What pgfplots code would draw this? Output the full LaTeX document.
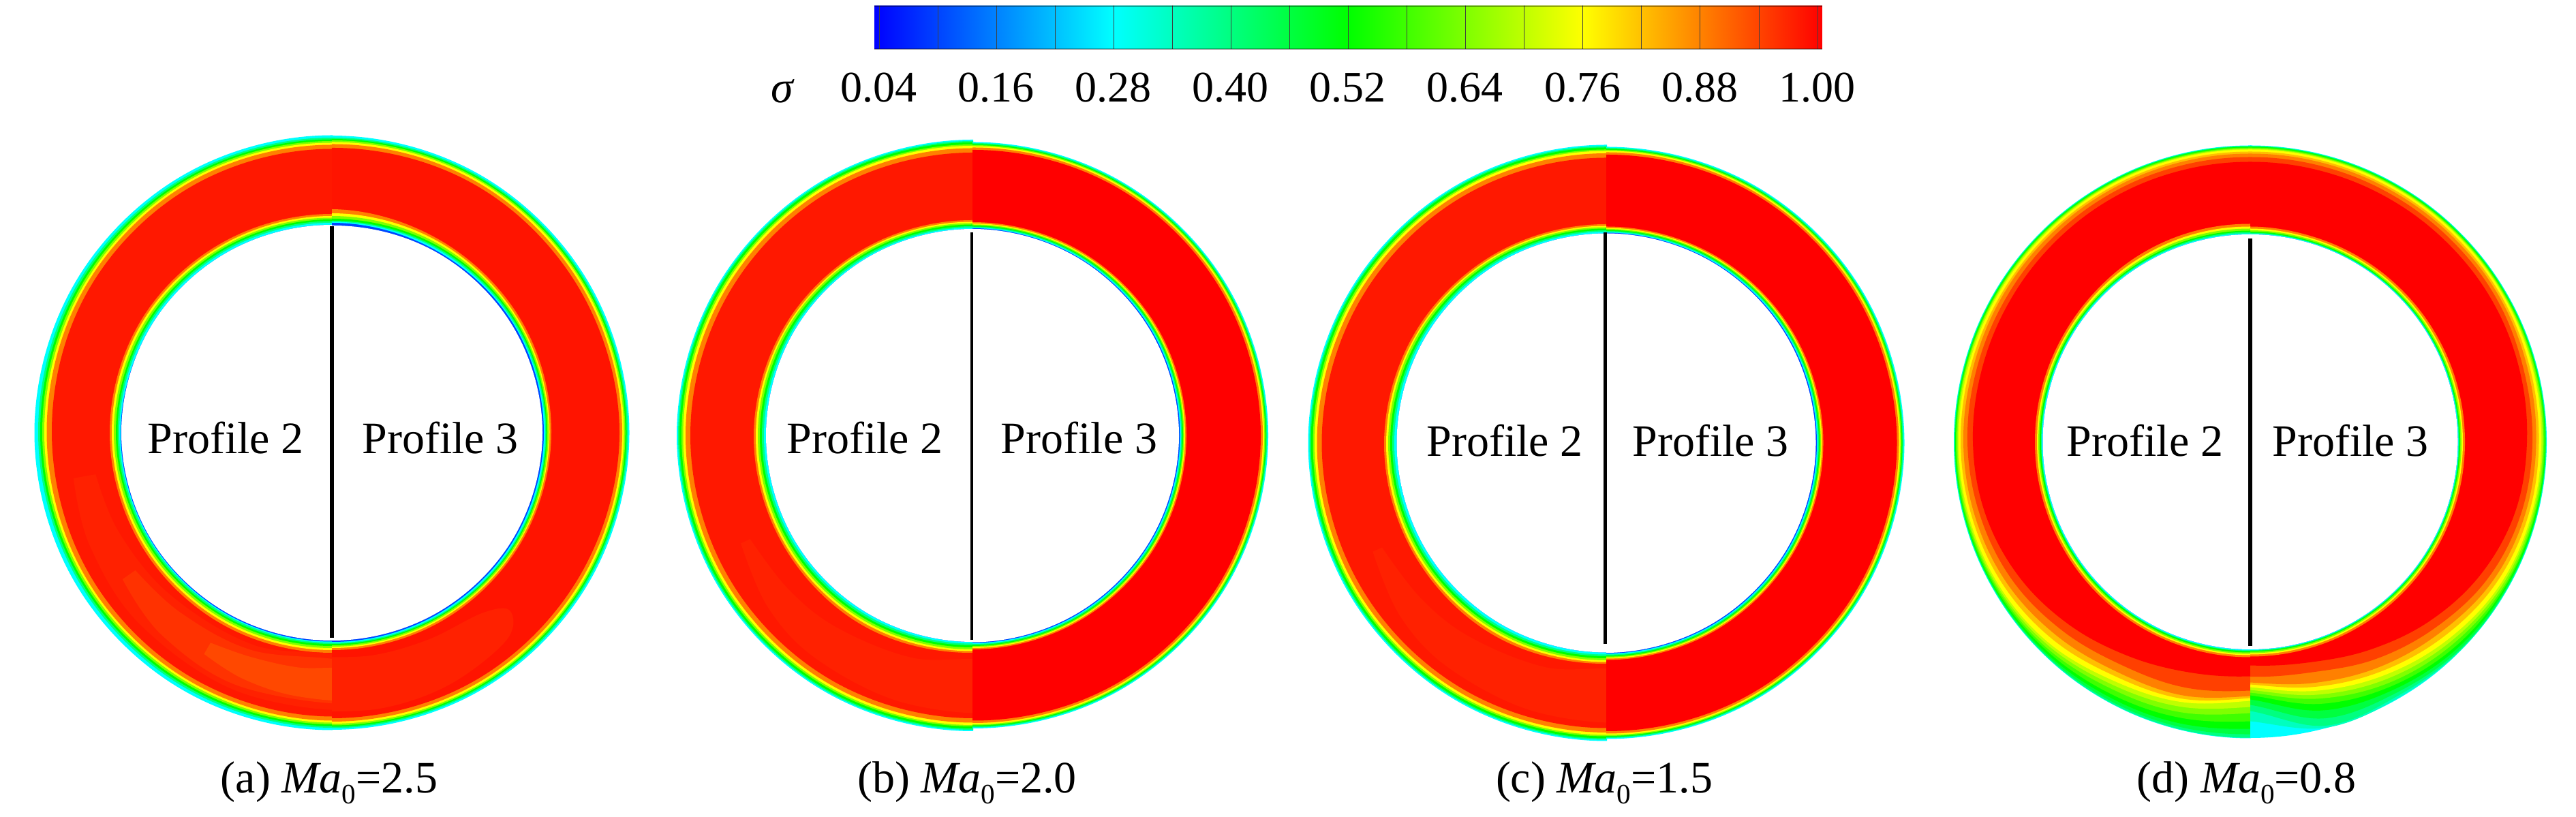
\documentclass[border=0pt]{standalone}
\usepackage{pgfplots}
\usepackage{fontspec}
\setmainfont{Liberation Serif}
\pgfplotsset{compat=1.18}
\usepackage{pgfplotstable}
\definecolor{s10}{RGB}{0,70,255}
\definecolor{s28}{RGB}{0,255,255}
\definecolor{s34}{RGB}{0,255,191}
\definecolor{s40}{RGB}{0,255,128}
\definecolor{s46}{RGB}{0,255,64}
\definecolor{s52}{RGB}{0,255,0}
\definecolor{s58}{RGB}{64,255,0}
\definecolor{s64}{RGB}{128,255,0}
\definecolor{s70}{RGB}{191,255,0}
\definecolor{s76}{RGB}{255,255,0}
\definecolor{s82}{RGB}{255,191,0}
\definecolor{s88}{RGB}{255,128,0}
\definecolor{s94}{RGB}{255,64,0}
\definecolor{rA}{RGB}{255,24,0}
\definecolor{rB}{RGB}{255,20,0}
\definecolor{rC}{RGB}{255,0,0}
\definecolor{rD}{RGB}{255,33,0}
\definecolor{rE}{RGB}{255,50,0}
\definecolor{rF}{RGB}{255,72,0}
\pgfplotstableread{
a o1 o2 o3 o4 o5 o6 o7 i6 i5 i4 i3 i2 i1 b w
60 436.5 433 430.5 428 425.5 422.5 416.5 321 318 315.5 313 310.5 308 306 306
90 436.5 433 430.5 428 425.5 422.5 416.5 321 318 315.5 313 310.5 308 305 305
120 436.5 433 430.5 428 425.5 422.5 416 322 319 316.5 314 311.5 309 306 306
150 436.5 432.5 429.5 426.5 423.5 420.5 414 325 322 319 316 313.5 311 308 308
180 436.5 431 428 425 422 418.5 411 326 323 320 317 314.5 312 310 309
210 436.5 431 428 425 422 419 412 325 321.5 318.5 315.5 313 310.5 309 308
240 436.5 432 429 426 423 420 414 324 320 317 314 311.5 309 307.5 306
270 436.5 433 430.5 428 425.5 422.5 416.5 323 319 316 313 310 308 306.5 305
300 436.5 433 430.5 428 425.5 422.5 416.5 323 319 316 313 310 308 306.5 305
}\tAL
\pgfplotstableread{
a o1 o2 o3 o4 o5 o6 o7 i6 i5 i4 i3 i2 i1 b w
-120 436 433.5 431.5 429.5 427 424 419 319 316 314 312 310 308.5 307 305
-90 436 433.5 431.5 429.5 427 424 419 319 316 314 312 310 308.5 307 305
-60 436.5 434 432 430 428 425 420 320 317 315 313 311.5 310 308 306
-30 436.5 434 432 430 428 425 420 321 318.5 317 315 313.5 312 310 308
0 436.5 434.5 432.5 430.5 428.5 426 422 322 319.5 318 316 314.5 313 311 309
30 436.5 434 432 430 428 425 420 323 320 318 316 314 312 310.5 308
60 436.5 434 432 430 428 425 420 324 321 318 315 312.5 310.5 308 306
90 436 433 431 429 426.5 423.5 418 328 322 318 314 311 309.5 308 304
120 436 433 431 429 426.5 423.5 418 328 322 318 314 311 309.5 308 304
}\tAR
\pgfplotstableread{
a o1 o2 o3 o4 o5 o6 o7 i6 i5 i4 i3 i2 i1 b w
60 434 432 430 427 425 421.5 415 316 313.5 311.5 309.5 307 305 303 303
90 434 432 430 427 425 421.5 415 316 313.5 311.5 309.5 307 305 303 303
120 434 432 430 427 425 421.5 415 317 314.5 312.5 310 307.5 305 303 303
150 434 432 430 427 424.5 421 414 319 316 314 311 308 305.5 303 303
180 434 432 430 427 424.5 421 414 321 318 315 312 309 306 303 303
210 434 432 430 427 424.5 421 414 321 318 315 312 309 306 303 303
240 434 432 430 427 424.5 421 414.5 322 318 315 312 309 306 303 303
270 434 432 430 427 425 421.5 415 319 316.5 314 311 308 305.5 303 303
300 434 432 430 427 425 421.5 415 319 316.5 314 311 308 305.5 303 303
}\tBL
\pgfplotstableread{
a o1 o2 o3 o4 o5 o6 o7 i6 i5 i4 i3 i2 i1 b w
-120 430 428.5 427 425.5 424 422 418.5 314 312 310.5 309 307.5 306 304.5 303.5
-90 430 428.5 427 425.5 424 422 418.5 314 312 310.5 309 307.5 306 304.5 303.5
-60 432 430.5 429 427.5 426 424 421 314 312 310.5 309 307.5 306 304.5 303
-30 433.5 432 430.5 429 427.5 425.5 422.5 314 312 310.5 309 307.5 306 304.5 303
0 434 432.5 431 429.5 428 426 423 314 312 310.5 309 307.5 306 304.5 303
30 433.5 432 430.5 429 427.5 425.5 422.5 314 312 310.5 309 307.5 306 304.5 303
60 432 430.5 429 427.5 426 424 421 313.5 311.5 310 308.5 307 305.5 304 303
90 430.5 429 427.5 426 424.5 422.5 419 313 311 309.5 308 306.5 305 304 303
120 430.5 429 427.5 426 424.5 422.5 419 313 311 309.5 308 306.5 305 304 303
}\tBR
\pgfplotstableread{
a o1 o2 o3 o4 o5 o6 o7 i6 i5 i4 i3 i2 i1 b w
60 437.5 435.5 433.5 430.5 428.5 425 418.5 321 318.5 316.5 314.5 312 310 307.5 307.5
90 437.5 435.5 433.5 430.5 428.5 425 418.5 321 318.5 316.5 314.5 312 310 307.5 307.5
120 437.5 435.5 433.5 430.5 428.5 425 418.5 322 319.5 317.5 315 312.5 310 307.5 307.5
150 437.5 435.5 433.5 430.5 428 424.5 417.5 324 321 319 316 313 310.5 307.5 307.5
180 437.5 435.5 433.5 430.5 428 424.5 417.5 326 323 320 317 314 311 307.5 307.5
210 437.5 435.5 433.5 430.5 428 424.5 417.5 326 323 320 317 314 311 307.5 307.5
240 437.5 435.5 433.5 430.5 428 424.5 418 327 323 320 317 314 311 307.5 307.5
270 437.5 435.5 433.5 430.5 428.5 425 418.5 324 321.5 319 316 313 310.5 307.5 307.5
300 437.5 435.5 433.5 430.5 428.5 425 418.5 324 321.5 319 316 313 310.5 307.5 307.5
}\tCL
\pgfplotstableread{
a o1 o2 o3 o4 o5 o6 o7 i6 i5 i4 i3 i2 i1 b w
-120 434.5 433 431.5 430 428.5 426.5 423 318.5 316.5 315 313.5 312 310.5 309 308
-90 434.5 433 431.5 430 428.5 426.5 423 318.5 316.5 315 313.5 312 310.5 309 308
-60 436 434.5 433 431.5 430 428 425 318.5 316.5 315 313.5 312 310.5 309 307.5
-30 437 435.5 434 432.5 431 429 426 318.5 316.5 315 313.5 312 310.5 309 307.5
0 437.5 436 434.5 433 431.5 429.5 426.5 318.5 316.5 315 313.5 312 310.5 309 307.5
30 437 435.5 434 432.5 431 429 426 318.5 316.5 315 313.5 312 310.5 309 307.5
60 436 434.5 433 431.5 430 428 425 318 316 314.5 313 311.5 310 308.5 307.5
90 434.5 433 431.5 430 428.5 426.5 423 317.5 315.5 314 312.5 311 309.5 308.5 307.5
120 434.5 433 431.5 430 428.5 426.5 423 317.5 315.5 314 312.5 311 309.5 308.5 307.5
}\tCR
\pgfplotstableread{
a o1 o2 o3 o4 o5 o6 o7 o8 o9 o10 o11 o12 o13 i6 i5 i4 i3 i2 i1 b w
75 435 434.5 434 433.5 433 432 431 430 429 426 423 418 411 320 316 313 310 308 306 304.5 304.5
90 435 434.5 434 433.5 433 432 431 430 429 426 423 418 411 320 316 313 310 308 306 304.5 304.5
105 435 434.5 434 433.5 433 432 431 430 429 426 423 418 411 320 316 313 310 308 306 304.5 304.5
120 435 434.5 434 433.5 433 432 431 430 429 426 423 418 411 319 315 312 309.5 307.5 306 304.5 304.5
135 435 434.5 434 433.5 433 432 431 430 428.5 425.5 422.5 417 410 317 314 311 309 307.5 306 304.5 304.5
150 435 434.5 434 433.5 433 432 431 430 428.5 425 422 416 409 316 313 311 309 307 306 304.5 304.5
165 435 434.5 434 433.5 433 432 431 430 428 425 421 415.5 408 316 313 311 309 307 306 304.5 304.5
180 435 434.5 434 433.5 433 432 431 429.5 428 425 421 415 407 316 313 311 309 307 306 304.5 304.5
195 435 434.5 434 433.5 433 432 430.5 429 427 423 418.5 411 403 316 313 311 309 307 306 304.5 304.5
210 435 434.5 434 433.5 432.5 431 429 427 424.5 419 413 404 393 316 313 311 309 307 306 304.5 304.5
225 435 434.5 434 433 431 428 425 421 417.5 410 402 391 378 316 313 311 309 307 306 304.5 304.5
240 435 434.5 434 432 428 423 416 410 404 397 390 378 362 316 313 311 309 307 306 304.5 304.5
255 435 434.5 434 431 426 418 410 402 395 390 385 373 350 316 313 311 309 307 306 304.5 304.5
270 435 434.5 434 429 421 410 398 389 380 376 373 365 344 316 313 311 309 307 306 304.5 304.5
285 435 434.5 434 429 421 410 398 389 380 376 373 365 344 316 313 311 309 307 306 304.5 304.5
}\tDL
\pgfplotstableread{
a o1 o2 o3 o4 o5 o6 o7 o8 o9 o10 o11 o12 o13 i6 i5 i4 i3 i2 i1 b w
-105 434.5 410 395 386 378 372 368 364 360 356 353 344.5 328 315 312 310 308 306.5 305.5 304.5 304.5
-90 434.5 410 395 386 378 372 368 364 360 356 353 344.5 328 315 312 310 308 306.5 305.5 304.5 304.5
-75 434.5 434 431 420 408 398 390 384 378 372 366 350 335 315 312 310 308 306.5 305.5 304.5 304.5
-60 435 434 431 426 420 414 408 401.5 395 388 381 368 352 315 312 310 308 306.5 305.5 304.5 304.5
-45 435 434.5 434 432.5 429 425 420 415 410 403 395 385 372 315 312 310 308 306.5 305.5 304.5 304.5
-30 435 434.5 434 433.5 432 430 428 425 422 416 410 402 390 315 312 310 308 306.5 305.5 304.5 304.5
-15 435 434.5 434 433.5 433 431.5 430 428 426 422 417 411 402 315 312 310 308 306.5 305.5 304.5 304.5
0 435 434.5 434 433.5 433 432 430.5 429 427 423.5 419.5 414 406 315 312 310 308 306.5 305.5 304.5 304.5
15 435 434.5 434 433.5 433 432 431 429.5 428 424.5 421 415 409 315 312 310 308 306.5 305.5 304.5 304.5
30 435 434.5 434 433.5 433 432 431 430 429 426 423 418 411 315 312 310 308 306.5 305.5 304.5 304.5
45 435 434.5 434 433.5 433 432 431 430 429 426 423 418 411 315 312 310 308 306.5 305.5 304.5 304.5
60 435 434.5 434 433.5 433 432 431 430 429 426 423 418 411 315 312 310 308 306.5 305.5 304.5 304.5
75 435 434.5 434 433.5 433 432 431 430 429 426 423 418 411 315 312 310 308 306.5 305.5 304.5 304.5
90 435 434.5 434 433.5 433 432 431 430 429 426 423 418 411 316 313 310.5 308.5 307 305.5 304.5 304.5
105 435 434.5 434 433.5 433 432 431 430 429 426 423 418 411 316 313 310.5 308.5 307 305.5 304.5 304.5
}\tDR
\newcommand{\lv}[3]{\addplot[draw=none,fill=#1,smooth,tension=0.62,data cs=polar] table[x=a,y=#2]{#3};}
\newcommand{\inner}[1]{\lv{s88}{i6}{#1}\lv{s76}{i5}{#1}\lv{s64}{i4}{#1}\lv{s52}{i3}{#1}\lv{s40}{i2}{#1}\lv{s28}{i1}{#1}\lv{s10}{b}{#1}\lv{white}{w}{#1}}
\newcommand{\ring}[2]{\lv{s28}{o1}{#1}\lv{s40}{o2}{#1}\lv{s52}{o3}{#1}\lv{s64}{o4}{#1}\lv{s76}{o5}{#1}\lv{s88}{o6}{#1}\lv{#2}{o7}{#1}\inner{#1}}
\newcommand{\ringfine}[1]{\lv{s28}{o1}{#1}\lv{s34}{o2}{#1}\lv{s40}{o3}{#1}\lv{s46}{o4}{#1}\lv{s52}{o5}{#1}\lv{s58}{o6}{#1}\lv{s64}{o7}{#1}\lv{s70}{o8}{#1}\lv{s76}{o9}{#1}\lv{s82}{o10}{#1}\lv{s88}{o11}{#1}\lv{s94}{o12}{#1}\lv{rC}{o13}{#1}\inner{#1}}
\pgfplotsset{half/.style={scale only axis,hide axis,height=225pt,ymin=-450,ymax=450,anchor=south west},
 patchy/.style={draw=none,fill=#1,smooth,tension=0.6,data cs=polar}}
\newcommand{\halfL}[3]{\begin{axis}[half,xmin=-450,xmax=1,width=112.75pt,at={({(#1-450)*0.25pt},{(1199-#2-450)*0.25pt})}]#3\end{axis}}
\newcommand{\halfR}[3]{\begin{axis}[half,xmin=0,xmax=450,width=112.5pt,at={({#1*0.25pt},{(1199-#2-450)*0.25pt})}]#3\end{axis}}
\newcommand{\txt}{\fontsize{16.5}{20}\selectfont}
\newcommand{\subz}{\raisebox{-4pt}{\fontsize{10.3}{12}\selectfont 0}}
\begin{document}
\begin{tikzpicture}
\useasboundingbox (0,0) rectangle (945pt,299.75pt);
\halfL{487}{635}{\ring{\tAL}{rA}
\addplot[patchy=rD] coordinates {(190,385)(205,392)(225,398)(250,404)(275,406)(275,333)(250,332)(225,336)(205,345)(190,352)};
\addplot[patchy=rE] coordinates {(215,375)(230,388)(250,396)(275,398)(275,340)(250,340)(230,345)(215,352)};
\addplot[patchy=rF] coordinates {(240,375)(250,384)(262,390)(275,392)(275,350)(262,348)(250,350)(240,356)};}
\halfR{487}{635}{\ring{\tAR}{rB}
\addplot[patchy=rD] coordinates {(-95,410)(-80,411)(-65,408)(-50,398)(-45,370)(-50,345)(-65,335)(-80,332)(-95,330)};}
\halfL{1427}{639}{\ring{\tBL}{rA}
\addplot[patchy=rD] coordinates {(205,375)(220,392)(235,400)(255,405)(275,405)(275,335)(255,338)(235,345)(220,352)(205,360)};}
\halfR{1427}{639}{\ring{\tBR}{rC}}
\halfL{2357}{650}{\ring{\tCL}{rA}
\addplot[patchy=rD] coordinates {(205,378)(220,395)(235,403)(255,408)(275,408)(275,338)(255,341)(235,348)(220,355)(205,363)};}
\halfR{2357}{650}{\ring{\tCR}{rC}}
\halfL{3302}{648.5}{\ringfine{\tDL}}
\halfR{3302}{648.5}{\ringfine{\tDR}}
% colour bar
\begin{axis}[scale only axis,at={(320.75pt,281.75pt)},anchor=south west,width=347.75pt,height=16pt,
  xmin=0.0351,xmax=1.0049,ymin=0,ymax=1,view={0}{90},axis on top,
  colormap={sig}{rgb255(0cm)=(0,0,255);rgb255(1cm)=(0,255,255);rgb255(2cm)=(0,255,0);rgb255(3cm)=(255,255,0);rgb255(4cm)=(255,0,0)},
  point meta min=0.04,point meta max=1,
  axis y line=none,axis x line=bottom,axis line style={draw=none,-},
  xtick={0.04,0.16,0.28,0.40,0.52,0.64,0.76,0.88,1.00},
  minor xtick={0.10,0.22,0.34,0.46,0.58,0.70,0.82,0.94},
  xmajorgrids,xminorgrids,
  major grid style={black!75,line width=0.25pt},minor grid style={black!75,line width=0.25pt},
  major tick length=0pt,minor tick length=0pt,
  xticklabel style={font=\fontsize{16}{20}\selectfont,anchor=base,yshift=-19.5pt,xshift=-0.2pt},
  /pgf/number format/fixed,/pgf/number format/fixed zerofill,/pgf/number format/precision=2,/pgf/number format/assume math mode=true]
\addplot3[surf,shader=interp,point meta=x,mesh/rows=2] coordinates {(0.0351,0,0)(0.28,0,0)(0.52,0,0)(0.76,0,0)(1.0049,0,0)(0.0351,1,0)(0.28,1,0)(0.52,1,0)(0.76,1,0)(1.0049,1,0)};
\end{axis}
% overlay in picture pixels
\begin{axis}[scale only axis,hide axis,at={(0pt,0pt)},anchor=south west,width=945pt,height=299.75pt,xmin=0,xmax=3780,ymin=0,ymax=1199,y dir=reverse]
\addplot[black,line width=1.5pt] coordinates {(486.6,332)(486.6,936)};
\addplot[black,line width=1.1pt] coordinates {(1426,341)(1426,939)};
\addplot[black,line width=1.1pt] coordinates {(2355.4,341)(2355.4,945)};
\addplot[black,line width=1.5pt] coordinates {(3302,350)(3302,948)};
\addplot[black,opacity=0.35,line width=0.5pt] coordinates {(1283,8.5)(2674,8.5)};
\addplot[black,opacity=0.35,line width=0.5pt] coordinates {(1283,71.5)(2674,71.5)};
\tikzset{lab/.style={anchor=base,inner sep=0pt,font=\txt}}
\node[lab] at (axis cs:331,665.8) {Profile 2};
\node[lab] at (axis cs:646,665.8) {Profile 3};
\node[lab] at (axis cs:1269,665.8) {Profile 2};
\node[lab] at (axis cs:1583.5,665.8) {Profile 3};
\node[lab] at (axis cs:2208,669) {Profile 2};
\node[lab] at (axis cs:2510,669) {Profile 3};
\node[lab] at (axis cs:3147.5,669) {Profile 2};
\node[lab] at (axis cs:3449,669) {Profile 3};
\node[lab] at (axis cs:1149,150) {\textit{σ}};
\node[lab] at (axis cs:483,1163) {(a) \textit{Ma}\subz=2.5};
\node[lab] at (axis cs:1419,1163) {(b) \textit{Ma}\subz=2.0};
\node[lab] at (axis cs:2354,1163) {(c) \textit{Ma}\subz=1.5};
\node[lab] at (axis cs:3296.5,1163) {(d) \textit{Ma}\subz=0.8};
\end{axis}
\end{tikzpicture}
\end{document}
